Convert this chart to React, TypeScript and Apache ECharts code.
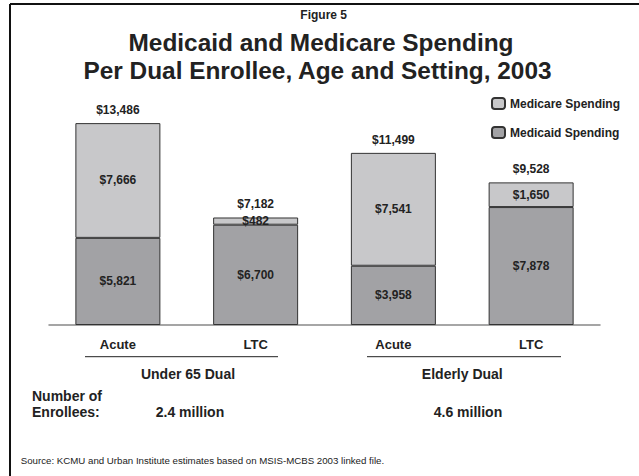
import React, { useEffect, useRef } from "react";
import * as echarts from "echarts";

const categories = ["Acute", "LTC", "Acute", "LTC"];
const medicaid = [5821, 6700, 3958, 7878];
const medicare = [7666, 482, 7541, 1650];
const totals = [13486, 7182, 11499, 9528];
const groups = ["Under 65 Dual", "Elderly Dual"];
const enrollees = ["2.4 million", "4.6 million"];

const fmt = (v: number) => "$" + v.toLocaleString("en-US");
const FONT = "Liberation Sans";
const TXT = "#222";

export default function App() {
  const ref = useRef<HTMLDivElement>(null);
  useEffect(() => {
    if (!ref.current) return;
    const chart = echarts.init(ref.current, null, { renderer: "svg" });
    const labelStyle = {
      show: true,
      position: "inside" as const,
      fontFamily: FONT,
      fontWeight: "bold" as const,
      fontSize: 12,
      color: TXT,
      formatter: (p: any) => fmt(p.value),
    };
    const txt = (text: string, x: number, y: number, size: number, align = "center", weight = "bold") => ({
      type: "text",
      x,
      y,
      style: {
        text,
        fontFamily: FONT,
        fontSize: size,
        fontWeight: weight,
        fill: TXT,
        textAlign: align,
        textVerticalAlign: "middle",
      },
      silent: true,
    });
    chart.setOption({
      animation: false,
      backgroundColor: "#fff",
      textStyle: { fontFamily: FONT },
      grid: { left: 49, right: 39, top: 85.5, bottom: 151 },
      legend: {
        orient: "vertical",
        left: 486,
        top: 92,
        itemWidth: 13,
        itemHeight: 11,
        itemGap: 16,
        data: ["Medicare Spending", "Medicaid Spending"],
        formatter: (name: string) => "{b|" + name + "}",
        textStyle: {
          fontFamily: FONT,
          fontWeight: 700,
          fontSize: 12,
          color: TXT,
          rich: { b: { fontFamily: FONT, fontWeight: 700, fontSize: 12, color: TXT } },
        },
        selectedMode: false,
      },
      xAxis: {
        type: "category",
        data: categories,
        axisLine: { lineStyle: { color: "#888", width: 1.5 } },
        axisTick: { show: false },
        axisLabel: { margin: 13, fontFamily: FONT, fontWeight: "bold", fontSize: 13, color: TXT },
      },
      yAxis: { type: "value", min: 0, max: 16000, show: false, splitLine: { show: false } },
      series: [
        {
          name: "Medicaid Spending",
          type: "bar",
          stack: "s",
          barWidth: 85,
          data: medicaid,
          itemStyle: { color: "#a2a2a5", borderColor: "#333", borderWidth: 1 },
          label: labelStyle,
        },
        {
          name: "Medicare Spending",
          type: "bar",
          stack: "s",
          barWidth: 85,
          data: medicare,
          itemStyle: { color: "#c8c8ca", borderColor: "#333", borderWidth: 1 },
          label: labelStyle,
        },
        {
          name: "Total",
          type: "scatter",
          symbolSize: 0,
          itemStyle: { opacity: 1 },
          data: totals.map((t, i) => [i, t]),
          label: {
            show: true,
            position: "top",
            distance: 7,
            fontFamily: FONT,
            fontWeight: "bold",
            fontSize: 12,
            color: TXT,
            formatter: (p: any) => fmt(p.value[1]),
          },
          silent: true,
        },
      ],
      graphic: [
        { type: "line", shape: { x1: 10, y1: 4, x2: 639, y2: 4 }, style: { stroke: "#111", lineWidth: 2 } },
        { type: "line", shape: { x1: 10, y1: 4, x2: 10, y2: 476 }, style: { stroke: "#111", lineWidth: 2 } },
        txt("Figure 5", 323.7, 15, 12),
        txt("Medicaid and Medicare Spending", 321, 42, 24.4),
        txt("Per Dual Enrollee, Age and Setting, 2003", 317.5, 70, 24.4),
        { type: "line", shape: { x1: 85, y1: 356.7, x2: 278, y2: 356.7 }, style: { stroke: "#222", lineWidth: 1 } },
        { type: "line", shape: { x1: 367, y1: 356.7, x2: 561, y2: 356.7 }, style: { stroke: "#222", lineWidth: 1 } },
        txt(groups[0], 188, 374, 14),
        txt(groups[1], 462.3, 374, 14),
        txt("Number of", 32, 395.7, 14, "left"),
        txt("Enrollees:", 32, 412, 14, "left"),
        txt(enrollees[0], 190, 411.7, 14),
        txt(enrollees[1], 468, 411.7, 14),
        txt("Source: KCMU and Urban Institute estimates based on MSIS-MCBS 2003 linked file.", 20.7, 460, 9.7, "left", "normal"),
      ],
    });
    return () => chart.dispose();
  }, []);
  return <div ref={ref} style={{ position: "absolute", left: 0, top: 0, width: 639, height: 476 }} />;
}
